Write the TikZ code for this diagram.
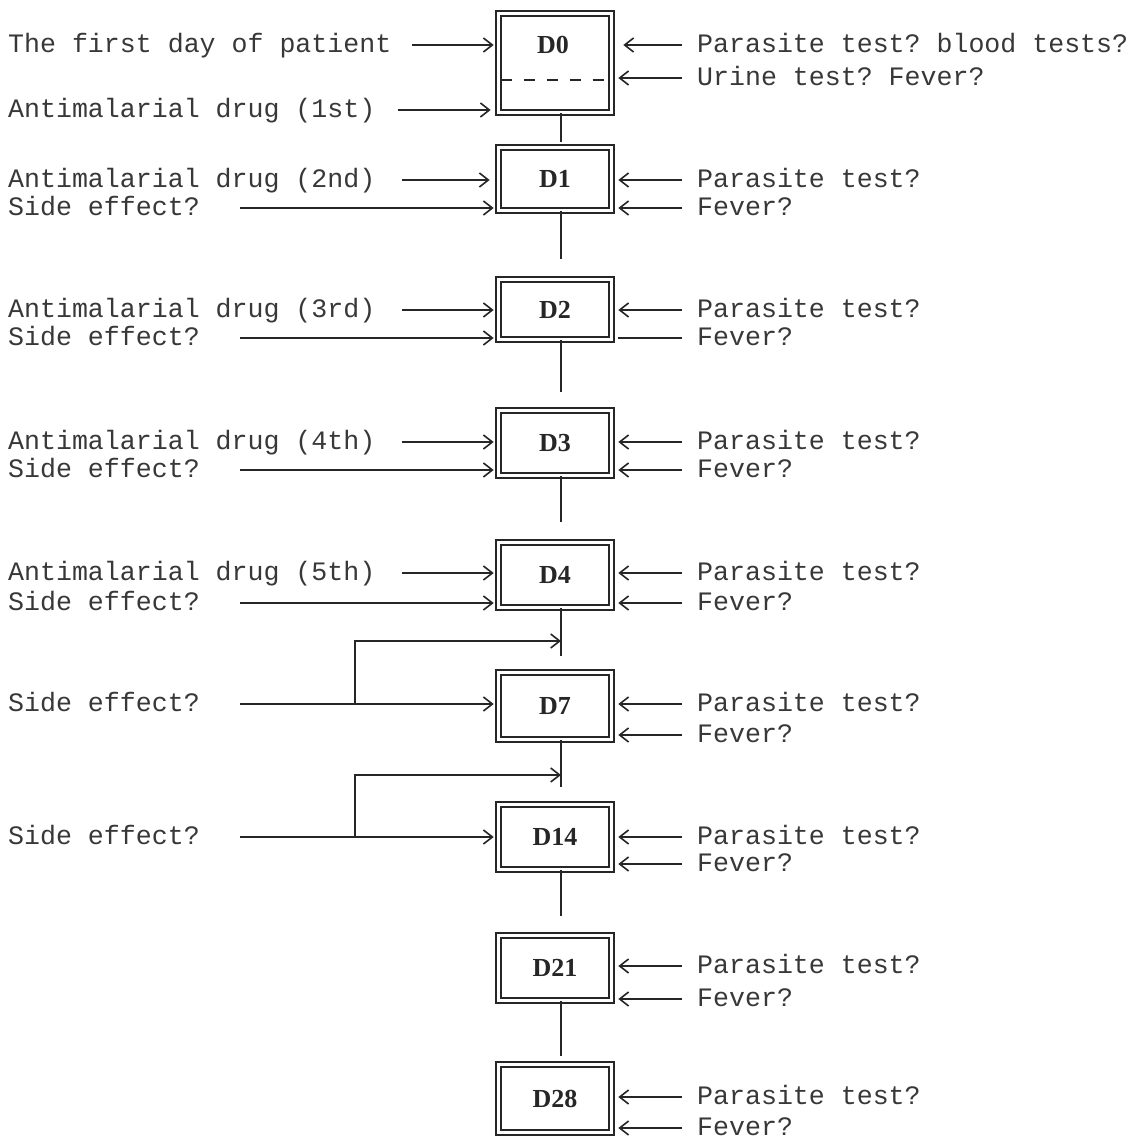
\documentclass[tikz,border=0pt]{standalone}
\usepackage{fontspec}
\setmonofont{Liberation Mono}
\newfontfamily\boxfont{Liberation Serif}
\usetikzlibrary{arrows.meta,calc}

\begin{document}
\begin{tikzpicture}[x=1pt,y=-1pt,
  txt/.style={anchor=west, inner sep=0pt, text height=15pt, text depth=0pt,
    font=\ttfamily\fontsize{26.6}{30}\selectfont, text=black!78},
  dbox/.style={draw=black!85, line width=1.6pt, double=white, double distance=3.4pt,
    minimum width=113pt, minimum height=#1, inner sep=0pt,
    font=\boxfont\bfseries\fontsize{26}{30}\selectfont, text=black!85},
  lab/.style={inner sep=0pt, font=\boxfont\bfseries\fontsize{26}{30}\selectfont, text=black!85},
  arr/.style={line width=1.6pt, draw=black!85,
    -{Straight Barb[length=9pt,width=14pt,line width=1.6pt]}},
  plain/.style={line width=1.6pt, draw=black!85},
  link/.style={line width=1.4pt, draw=black!85},
]
\useasboundingbox (0,0) rectangle (1143,1140);
\fill[white] (0,0) rectangle (1143,1140);

% day boxes
\node[dbox=99pt] (D0) at (555,63) {};
\node[lab] (L0) at (553,45) {D0};
\node[dbox=63pt] (D1) at (555,179) {D1};
\node[dbox=60pt] (D2) at (555,309.5) {D2};
\node[dbox=65pt] (D3) at (555,443) {D3};
\node[dbox=65pt] (D4) at (555,575) {D4};
\node[dbox=67pt] (D7) at (555,706) {D7};
\node[dbox=65pt] (D14) at (555,837) {D14};
\node[dbox=65pt] (D21) at (555,968) {D21};
\node[dbox=68pt] (D28) at (555,1098.5) {D28};

% split line in the first box
\draw[line width=1.5pt, draw=black!85, dash pattern=on 11pt off 12pt]
  ($(D0.west)+(3,17)$) -- ($(D0.east)+(-3,17)$);

% time line between the boxes
\draw[link] ([xshift=6pt]D0.south) -- ($(D1.north)+(6,-4.5)$);
\draw[link] ([xshift=6pt]D1.south) -- ($(D2.north)+(6,-19.5)$);
\draw[link] ([xshift=6pt]D2.south) -- ($(D3.north)+(6,-17.5)$);
\draw[link] ([xshift=6pt]D3.south) -- ($(D4.north)+(6,-19.5)$);
\draw[link] ([xshift=6pt]D4.south) -- ($(D7.north)+(6,-15.5)$);
\draw[link] ([xshift=6pt]D7.south) -- ($(D14.north)+(6,-16.5)$);
\draw[link] ([xshift=6pt]D14.south) -- ($(D21.north)+(6,-18.5)$);
\draw[link] ([xshift=6pt]D21.south) -- ($(D28.north)+(6,-7.5)$);

% left column: events and drug doses
\node[txt] (a0) at (8,45) {The first day of patient};
\node[txt] (b0) at (8,110) {Antimalarial drug (1st)};
\node[txt] (a1) at (8,180) {Antimalarial drug (2nd)};
\node[txt] (b1) at (8,208) {Side effect?};
\node[txt] (a2) at (8,310) {Antimalarial drug (3rd)};
\node[txt] (b2) at (8,338) {Side effect?};
\node[txt] (a3) at (8,442) {Antimalarial drug (4th)};
\node[txt] (b3) at (8,470) {Side effect?};
\node[txt] (a4) at (8,573) {Antimalarial drug (5th)};
\node[txt] (b4) at (8,603) {Side effect?};
\node[txt] (b7) at (8,704) {Side effect?};
\node[txt] (b14) at (8,837) {Side effect?};

\draw[arr] ([xshift=20pt]a0.east) -- ($(a0.east -| D0.west)+(-4,0)$);
\draw[arr] ([xshift=22pt]b0.east) -- ($(b0.east -| D0.west)+(-7,0)$);
\draw[arr] ([xshift=26pt]a1.east) -- ($(a1.east -| D1.west)+(-8,0)$);
\draw[arr] ([xshift=40pt]b1.east) -- ($(b1.east -| D1.west)+(-4,0)$);
\draw[arr] ([xshift=26pt]a2.east) -- ($(a2.east -| D2.west)+(-4,0)$);
\draw[arr] ([xshift=40pt]b2.east) -- ($(b2.east -| D2.west)+(-4,0)$);
\draw[arr] ([xshift=26pt]a3.east) -- ($(a3.east -| D3.west)+(-4,0)$);
\draw[arr] ([xshift=40pt]b3.east) -- ($(b3.east -| D3.west)+(-4,0)$);
\draw[arr] ([xshift=26pt]a4.east) -- ($(a4.east -| D4.west)+(-4,0)$);
\draw[arr] ([xshift=40pt]b4.east) -- ($(b4.east -| D4.west)+(-4,0)$);
\draw[arr] ([xshift=40pt]b7.east) -- ($(b7.east -| D7.west)+(-4,0)$);
\draw[arr] ([xshift=40pt]b14.east) -- ($(b14.east -| D14.west)+(-4,0)$);

% side effects reported between visits
\coordinate (j7) at (355,704);
\coordinate (m7) at (561,641);
\draw[arr] (j7) |- (m7);
\coordinate (j14) at (355,837);
\coordinate (m14) at (561,775);
\draw[arr] (j14) |- (m14);

% right column: tests at each visit
\node[txt] (p0) at (697,45) {Parasite test? blood tests?};
\node[txt] (f0) at (697,78) {Urine test? Fever?};
\node[txt] (p1) at (697,180) {Parasite test?};
\node[txt] (f1) at (697,208) {Fever?};
\node[txt] (p2) at (697,310) {Parasite test?};
\node[txt] (f2) at (697,338) {Fever?};
\node[txt] (p3) at (697,442) {Parasite test?};
\node[txt] (f3) at (697,470) {Fever?};
\node[txt] (p4) at (697,573) {Parasite test?};
\node[txt] (f4) at (697,603) {Fever?};
\node[txt] (p7) at (697,704) {Parasite test?};
\node[txt] (f7) at (697,735) {Fever?};
\node[txt] (p14) at (697,837) {Parasite test?};
\node[txt] (f14) at (697,864) {Fever?};
\node[txt] (p21) at (697,966) {Parasite test?};
\node[txt] (f21) at (697,999) {Fever?};
\node[txt] (p28) at (697,1097) {Parasite test?};
\node[txt] (f28) at (697,1128) {Fever?};

\draw[arr] ([xshift=-15pt]p0.west) -- ($(p0.west -| D0.east)+(11,0)$);
\draw[arr] ([xshift=-15pt]f0.west) -- ($(f0.west -| D0.east)+(6,0)$);
\draw[arr] ([xshift=-15pt]p1.west) -- ($(p1.west -| D1.east)+(6,0)$);
\draw[arr] ([xshift=-15pt]f1.west) -- ($(f1.west -| D1.east)+(6,0)$);
\draw[arr] ([xshift=-15pt]p2.west) -- ($(p2.west -| D2.east)+(6,0)$);
\draw[plain] ([xshift=-15pt]f2.west) -- ($(f2.west -| D2.east)+(6,0)$);
\draw[arr] ([xshift=-15pt]p3.west) -- ($(p3.west -| D3.east)+(6,0)$);
\draw[arr] ([xshift=-15pt]f3.west) -- ($(f3.west -| D3.east)+(6,0)$);
\draw[arr] ([xshift=-15pt]p4.west) -- ($(p4.west -| D4.east)+(6,0)$);
\draw[arr] ([xshift=-15pt]f4.west) -- ($(f4.west -| D4.east)+(6,0)$);
\draw[arr] ([xshift=-15pt]p7.west) -- ($(p7.west -| D7.east)+(6,0)$);
\draw[arr] ([xshift=-15pt]f7.west) -- ($(f7.west -| D7.east)+(6,0)$);
\draw[arr] ([xshift=-15pt]p14.west) -- ($(p14.west -| D14.east)+(6,0)$);
\draw[arr] ([xshift=-15pt]f14.west) -- ($(f14.west -| D14.east)+(6,0)$);
\draw[arr] ([xshift=-15pt]p21.west) -- ($(p21.west -| D21.east)+(6,0)$);
\draw[arr] ([xshift=-15pt]f21.west) -- ($(f21.west -| D21.east)+(6,0)$);
\draw[arr] ([xshift=-15pt]p28.west) -- ($(p28.west -| D28.east)+(6,0)$);
\draw[arr] ([xshift=-15pt]f28.west) -- ($(f28.west -| D28.east)+(6,0)$);
\end{tikzpicture}
\end{document}
